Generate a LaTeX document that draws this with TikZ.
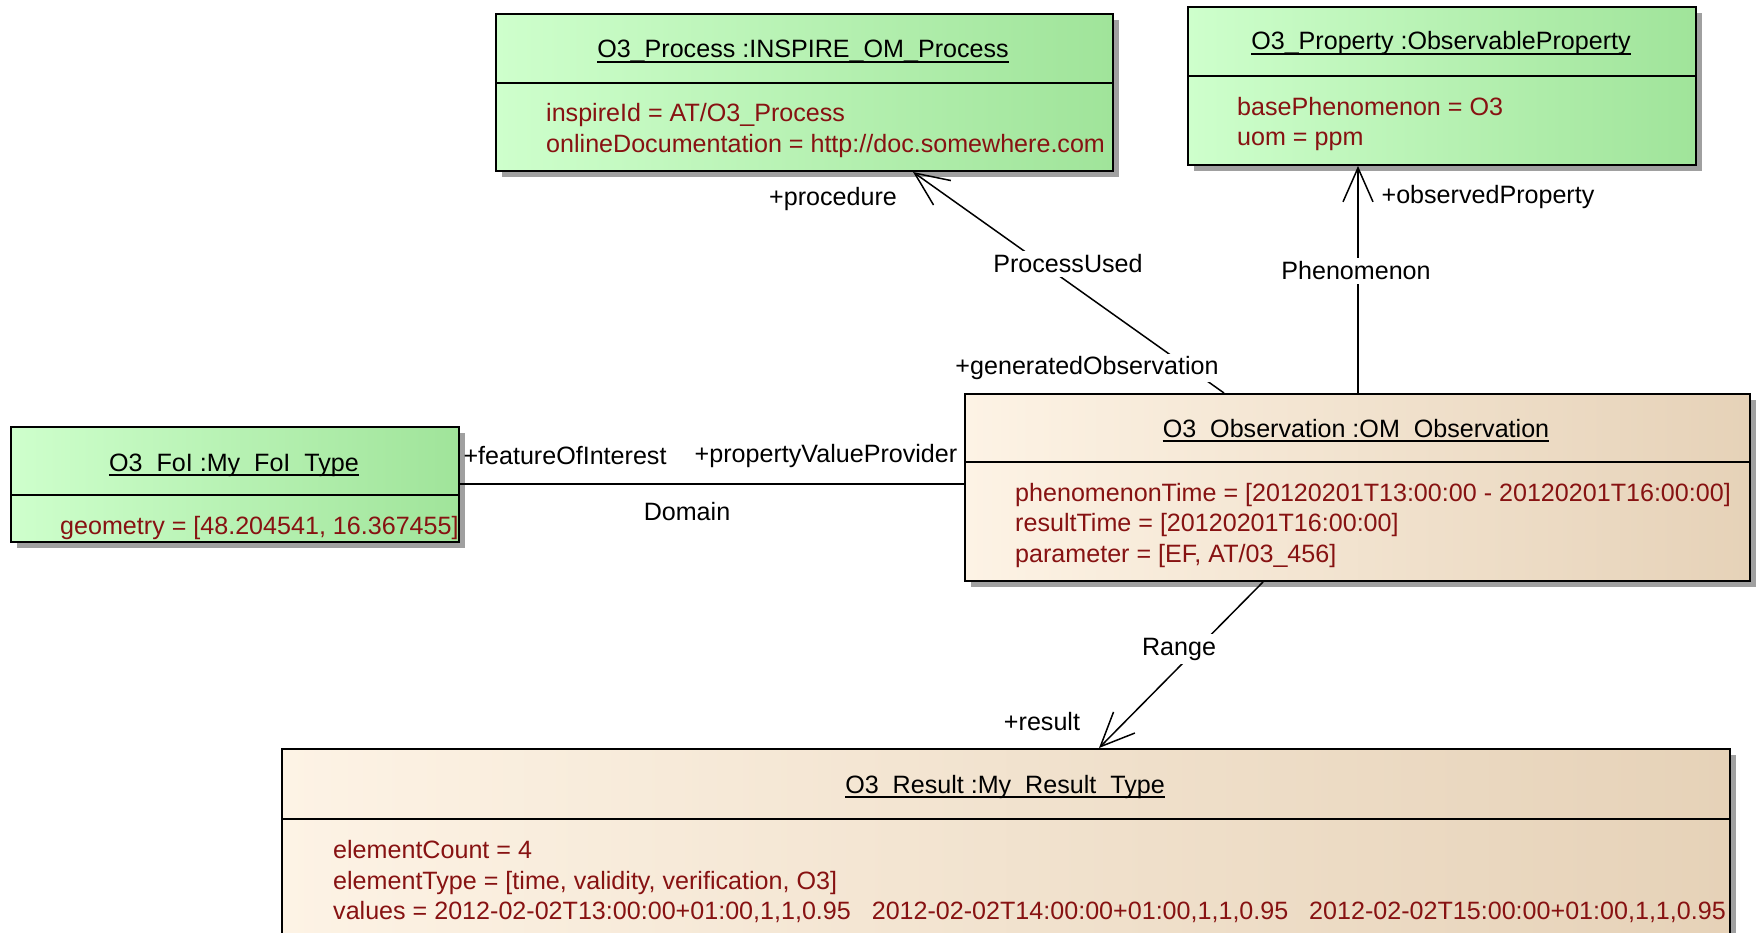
\documentclass[tikz,border=0pt]{standalone}
\usepackage{fontspec}
\setmainfont{Liberation Sans}
\usetikzlibrary{arrows.meta,shadows}
\definecolor{gL}{RGB}{206,255,204}
\definecolor{gM}{RGB}{190,246,186}
\definecolor{gR}{RGB}{160,228,154}
\definecolor{bL}{RGB}{253,243,229}
\definecolor{bM}{RGB}{245,232,214}
\definecolor{bR}{RGB}{230,210,184}
\definecolor{attr}{RGB}{135,18,18}
\definecolor{shadecol}{RGB}{160,160,160}
\newcommand{\umlfont}{\fontsize{25.1}{30}\selectfont}
\begin{document}
\begin{tikzpicture}[x=1pt,y=-1pt,
  box/.style={draw=black, line width=2pt, rectangle, inner sep=0pt, anchor=north west,
    drop shadow={shadow xshift=6pt,shadow yshift=-6pt,fill=shadecol,opacity=1}},
  greenbox/.style={box, left color=gL, middle color=gM, right color=gR},
  brownbox/.style={box, left color=bL, middle color=bM, right color=bR},
  ttl/.style={font=\umlfont, inner sep=0pt, anchor=base, text=black},
  att/.style={font=\umlfont, inner sep=0pt, anchor=base west, text=attr},
  lbl/.style={font=\umlfont, inner sep=0pt, text=black},
  gaplbl/.style={lbl, fill=white, inner sep=4pt},
  conn/.style={line width=1.5pt, draw=black},
  openarrow/.style={-{Straight Barb[length=34pt,width=30pt,line width=1.5pt]}},
  sepline/.style={line width=2pt},
  uline/.style={line width=1.8pt}]
\clip (0,0) rectangle (1757,933);
\fill[white] (0,0) rectangle (1757,933);

% ---- boxes
\node[greenbox, minimum width=617pt, minimum height=157pt] (proc) at (495,13) {};
\node[greenbox, minimum width=508pt, minimum height=158pt] (prop) at (1187,6) {};
\node[greenbox, minimum width=448pt, minimum height=115pt] (foi) at (10,426) {};
\node[brownbox, minimum width=785pt, minimum height=187pt] (obs) at (964,393) {};
\node[brownbox, minimum width=1448pt, minimum height=230pt] (res) at (281,748) {};

% ---- compartment separators
\draw[sepline] ([yshift=-70pt]proc.north west) -- ([yshift=-70pt]proc.north east);
\draw[sepline] ([yshift=-70pt]prop.north west) -- ([yshift=-70pt]prop.north east);
\draw[sepline] ([yshift=-69pt]foi.north west) -- ([yshift=-69pt]foi.north east);
\draw[sepline] ([yshift=-69pt]obs.north west) -- ([yshift=-69pt]obs.north east);
\draw[sepline] ([yshift=-71pt]res.north west) -- ([yshift=-71pt]res.north east);

% ---- titles
\node[ttl] (tproc) at (803,58) {O3\_Process :INSPIRE\_OM\_Process};
\node[ttl] (tprop) at (1441,50) {O3\_Property :ObservableProperty};
\node[ttl] (tfoi) at (234,471) {O3\_FoI :My\_FoI\_Type};
\node[ttl] (tobs) at (1356,437) {O3\_Observation :OM\_Observation};
\node[ttl] (tres) at (1005,793) {O3\_Result :My\_Result\_Type};
\foreach \t in {tproc,tprop,tfoi,tobs,tres}
  \draw[uline] ([yshift=-4pt]\t.base west) -- ([yshift=-4pt]\t.base east);

% ---- attributes
\node[att] (p1) at (546,122) {inspireId = AT/O3\_Process};
\node[att] (p2) at (546,153) {onlineDocumentation = http://doc.somewhere.com};
\node[att] (q1) at (1237,116) {basePhenomenon = O3};
\node[att] (q2) at (1237,146) {uom = ppm};
\node[att] (f1) at (60,534) {geometry = [48.204541, 16.367455]};
\node[att] (o1) at (1015,501) {phenomenonTime = [20120201T13:00:00 - 20120201T16:00:00]};
\node[att] (o2) at (1015,531) {resultTime = [20120201T16:00:00]};
\node[att] (o3) at (1015,562) {parameter = [EF, AT/03\_456]};
\node[att] (r1) at (333,858) {elementCount = 4};
\node[att] (r2) at (333,889) {elementType = [time, validity, verification, O3]};
\node[att] (r3) at (333,919) {values = 2012-02-02T13:00:00+01:00,1,1,0.95\ \ \ 2012-02-02T14:00:00+01:00,1,1,0.95\ \ \ 2012-02-02T15:00:00+01:00,1,1,0.95};

% ---- connectors
\draw[conn, openarrow] ([xshift=260pt]obs.north west) -- ([xshift=418pt]proc.south west);
\draw[conn, openarrow] ([xshift=394pt]obs.north west) -- ([xshift=171pt]prop.south west);
\draw[conn] ([yshift=-58pt]foi.north east) -- ([yshift=-91pt]obs.north west);
\draw[conn, openarrow] ([xshift=299pt]obs.south west) -- ([xshift=818pt]res.north west);

% ---- connector labels
\node[gaplbl] (lpu) at (1068,264) {ProcessUsed};
\node[gaplbl] (lph) at (1356,271) {Phenomenon};
\node[gaplbl] (lra) at (1179,649) {Range};
\node[lbl] (lproc) at (833,199) {+procedure};
\node[gaplbl, inner sep=2pt] (lgen) at (1087,368) {+generatedObservation};
\node[lbl] (lobsp) at (1488,197) {+observedProperty};
\node[lbl] (lfoi) at (565,456) {+featureOfInterest};
\node[lbl] (lpvp) at (826,456) {+propertyValueProvider};
\node[lbl] (ldom) at (687,512) {Domain};
\node[lbl] (lres) at (1042,722) {+result};
\end{tikzpicture}
\end{document}
